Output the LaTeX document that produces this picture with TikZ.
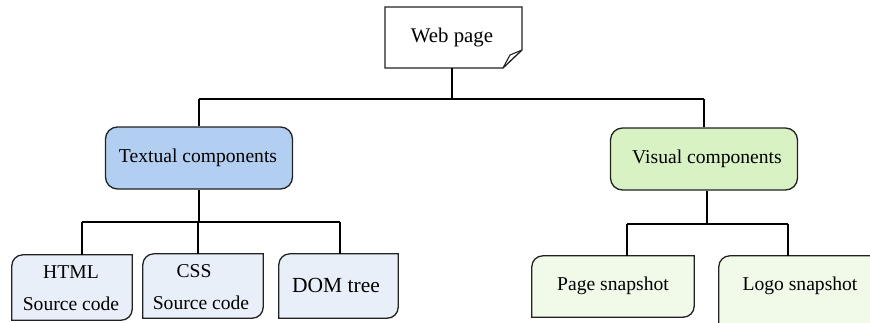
\documentclass[tikz,border=0pt]{standalone}
\usepackage{fontspec}
\setmainfont{Liberation Serif}
\definecolor{txtfill}{HTML}{B2CEF0}
\definecolor{visfill}{HTML}{D9F2C4}
\definecolor{bluecard}{HTML}{E9EFF9}
\definecolor{greencard}{HTML}{F1F9E9}
\definecolor{edge}{HTML}{222222}
\begin{document}
\begin{tikzpicture}[x=1pt,y=-1pt,
  lbl/.style={inner sep=0pt, align=center, font=\fontsize{19.6}{32}\selectfont, text=black},
  mid/.style={draw=edge, line width=1.3pt, rounded corners=12pt},
  card/.style={draw=edge, line width=1.3pt},
  conn/.style={draw=black, line width=1.2pt}]
\useasboundingbox (0,0) rectangle (870,322);
\clip (0,0) rectangle (870,322);
% Web page
\coordinate (wnw) at (385,7);
\coordinate (wne) at (522,7);
\coordinate (wf1) at (522,50);
\coordinate (wf2) at (503,68);
\coordinate (wsw) at (385,68);
\coordinate (wfi) at (510,55);
\coordinate (wb) at (452,68);
\draw[card, fill=white, line join=miter] (wnw) -- (wne) -- (wf1) -- (wf2) -- (wsw) -- cycle;
\draw[line width=1.1pt, edge, line join=round] (wf1) -- (wfi) -- (wf2);
\node[lbl, font=\fontsize{20.8}{24}\selectfont] (web) at (452,38) {Web page};
% Middle nodes
\node[mid, fill=txtfill, minimum width=187pt, minimum height=62pt, inner sep=0pt] (txt) at (199,158) {};
\node[lbl] (txtl) at (198,158) {Textual components};
\node[mid, fill=visfill, minimum width=187pt, minimum height=62pt, inner sep=0pt] (vis) at (704,159) {};
\node[lbl] (visl) at (707,159) {Visual components};
% Bottom cards
\newcommand{\cardpath}[2]{%
  \draw[card, fill=#2] (#1.west) [rounded corners=11pt] -- (#1.north west) -- (#1.north) [sharp corners] -- (#1.north east) -- (#1.east) [rounded corners=11pt] -- (#1.south east) -- (#1.south) [sharp corners] -- (#1.south west) -- cycle;}
\node[inner sep=0pt, minimum width=120pt, minimum height=65pt] (html) at (72,287.5) {};
\node[inner sep=0pt, minimum width=120pt, minimum height=64pt] (css) at (203,286) {};
\node[inner sep=0pt, minimum width=119pt, minimum height=64pt] (dom) at (338.5,286) {};
\node[inner sep=0pt, minimum width=162pt, minimum height=61pt] (page) at (613,286.5) {};
\node[inner sep=0pt, minimum width=162pt, minimum height=70pt] (logo) at (800,291) {};
\cardpath{html}{bluecard}
\cardpath{css}{bluecard}
\cardpath{dom}{bluecard}
\cardpath{page}{greencard}
\cardpath{logo}{greencard}
\node[lbl] (htmll) at (71,288) {HTML\\Source code};
\node[lbl] (cssl) at (201,287) {\hspace*{-14pt}CSS\\Source code};
\node[lbl, font=\fontsize{21.5}{24}\selectfont] (doml) at (336,285) {DOM tree};
\node[lbl] (pagel) at (613,286) {Page snapshot};
\node[lbl] (logol) at (800,286) {Logo snapshot};
% Connectors
\coordinate (j1) at (452,99);
\coordinate (j2) at (199,222);
\coordinate (j3) at (707,224);
\coordinate (dhtml) at (82,0);
\coordinate (dcss) at (198,0);
\coordinate (ddom) at (340,0);
\coordinate (dpage) at (627,0);
\coordinate (dlogo) at (788,0);
\draw[conn] (wb) -- (j1);
\draw[conn] (txt.north |- j1) -- (vis.north |- j1);
\draw[conn] (txt.north |- j1) -- (txt.north);
\draw[conn] (vis.north |- j1) -- (vis.north);
\draw[conn] (txt.south) -- (j2);
\draw[conn] (dhtml |- j2) -- (ddom |- j2);
\draw[conn] (dhtml |- j2) -- (dhtml |- html.north);
\draw[conn] (dcss |- j2) -- (dcss |- css.north);
\draw[conn] (ddom |- j2) -- (ddom |- dom.north);
\draw[conn] (vis.south -| j3) -- (j3);
\draw[conn] (dpage |- j3) -- (dlogo |- j3);
\draw[conn] (dpage |- j3) -- (dpage |- page.north);
\draw[conn] (dlogo |- j3) -- (dlogo |- logo.north);
\end{tikzpicture}
\end{document}
